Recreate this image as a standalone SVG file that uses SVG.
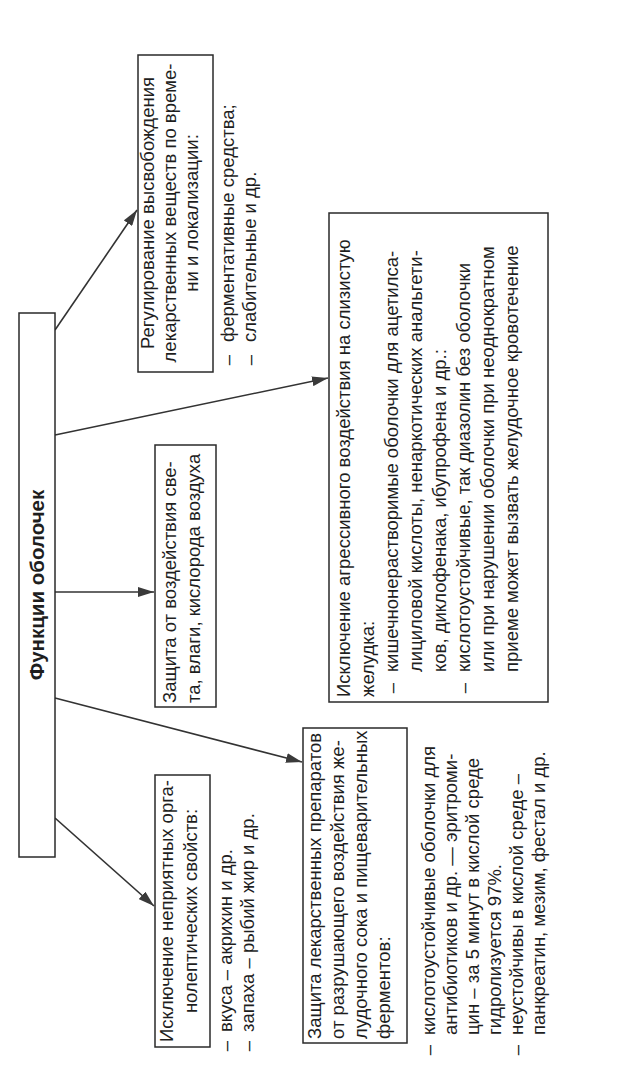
<svg xmlns="http://www.w3.org/2000/svg" width="640" height="1079" viewBox="0 0 640 1079">
<defs>
<marker id="ah" viewBox="0 0 16 10" refX="16" refY="5" markerWidth="16" markerHeight="10" markerUnits="userSpaceOnUse" orient="auto"><path d="M0,0 L16,5 L0,10 z" fill="#3a3a3a"/></marker>
</defs>
<style>
.box{fill:#fff;stroke:#2a2a2a;stroke-width:1.5}
.t{font-family:"Liberation Sans",Arial,sans-serif;font-size:18.5px;fill:#1e1e1e}
.b{font-weight:bold;font-size:20.5px}
.m{text-anchor:middle}
.c{stroke:#333;stroke-width:1.6;fill:none;marker-end:url(#ah)}
</style>
<rect width="640" height="1079" fill="#fff"/>
<g id="connectors">
<line class="c" x1="55" y1="330" x2="137" y2="210"/>
<line class="c" x1="55" y1="435" x2="328" y2="378"/>
<line class="c" x1="55" y1="592" x2="154" y2="592"/>
<line class="c" x1="55" y1="698" x2="302" y2="762"/>
<line class="c" x1="55" y1="818" x2="154" y2="906"/>
</g>
<g id="root">
<rect class="box" x="19" y="313" width="36" height="544"/>
<text class="t b m" transform="translate(44,585) rotate(-90)">Функции оболочек</text>
</g>
<g id="n-regul">
<rect class="box" x="138" y="55" width="75" height="317"/>
<text class="t m" transform="translate(154,213) rotate(-90)">Регулирование высвобождения</text>
<text class="t m" transform="translate(176,213) rotate(-90)">лекарственных веществ по време-</text>
<text class="t m" transform="translate(198,213) rotate(-90)">ни и локализации:</text>
<text class="t m" transform="translate(234,360) rotate(-90)">–</text>
<text class="t" transform="translate(234,342) rotate(-90)">ферментативные средства;</text>
<text class="t m" transform="translate(256,360) rotate(-90)">–</text>
<text class="t" transform="translate(256,342) rotate(-90)">слабительные и др.</text>
</g>
<g id="n-light">
<rect class="box" x="155" y="445" width="61" height="262"/>
<text class="t" transform="translate(176,703) rotate(-90)">Защита от воздействия све-</text>
<text class="t" transform="translate(200,703) rotate(-90)">та, влаги, кислорода воздуха</text>
</g>
<g id="n-aggr">
<rect class="box" x="329" y="213" width="219" height="489"/>
<text class="t" transform="translate(350,697) rotate(-90)">Исключение агрессивного воздействия на слизистую</text>
<text class="t" transform="translate(374,697) rotate(-90)">желудка:</text>
<text class="t m" transform="translate(398,688) rotate(-90)">–</text>
<text class="t" transform="translate(398,672) rotate(-90)">кишечнонерастворимые оболочки для ацетилса-</text>
<text class="t" transform="translate(422,672) rotate(-90)">лициловой кислоты, ненаркотических анальгети-</text>
<text class="t" transform="translate(446,672) rotate(-90)">ков, диклофенака, ибупрофена и др.:</text>
<text class="t m" transform="translate(470,688) rotate(-90)">–</text>
<text class="t" transform="translate(470,672) rotate(-90)">кислотоустойчивые, так диазолин без оболочки</text>
<text class="t" transform="translate(494,672) rotate(-90)">или при нарушении оболочки при неоднократном</text>
<text class="t" transform="translate(518,672) rotate(-90)">приеме может вызвать желудочное кровотечение</text>
</g>
<g id="n-protect">
<rect class="box" x="303" y="728" width="104" height="315"/>
<text class="t" transform="translate(321,1039) rotate(-90)">Защита лекарственных препаратов</text>
<text class="t" transform="translate(344,1039) rotate(-90)">от разрушающего воздействия же-</text>
<text class="t" transform="translate(367,1039) rotate(-90)">лудочного сока и пищеварительных</text>
<text class="t" transform="translate(390,1039) rotate(-90)">ферментов:</text>
<text class="t m" transform="translate(435,1050) rotate(-90)">–</text>
<text class="t" transform="translate(435,1035) rotate(-90)">кислотоустойчивые оболочки для</text>
<text class="t" transform="translate(457,1035) rotate(-90)">антибиотиков и др. — эритроми-</text>
<text class="t" transform="translate(479,1035) rotate(-90)">цин – за 5 минут в кислой среде</text>
<text class="t" transform="translate(501,1035) rotate(-90)">гидролизуется 97%.</text>
<text class="t m" transform="translate(523,1050) rotate(-90)">–</text>
<text class="t" transform="translate(523,1035) rotate(-90)">неустойчивы в кислой среде –</text>
<text class="t" transform="translate(545,1035) rotate(-90)">панкреатин, мезим, фестал и др.</text>
</g>
<g id="n-taste">
<rect class="box" x="155" y="775" width="55" height="272"/>
<text class="t m" transform="translate(173,911) rotate(-90)">Исключение неприятных орга-</text>
<text class="t m" transform="translate(197,911) rotate(-90)">нолептических свойств:</text>
<text class="t m" transform="translate(232,1046) rotate(-90)">–</text>
<text class="t" transform="translate(232,1032) rotate(-90)">вкуса – акрихин и др.</text>
<text class="t m" transform="translate(254,1046) rotate(-90)">–</text>
<text class="t" transform="translate(254,1032) rotate(-90)">запаха – рыбий жир и др.</text>
</g>
</svg>
